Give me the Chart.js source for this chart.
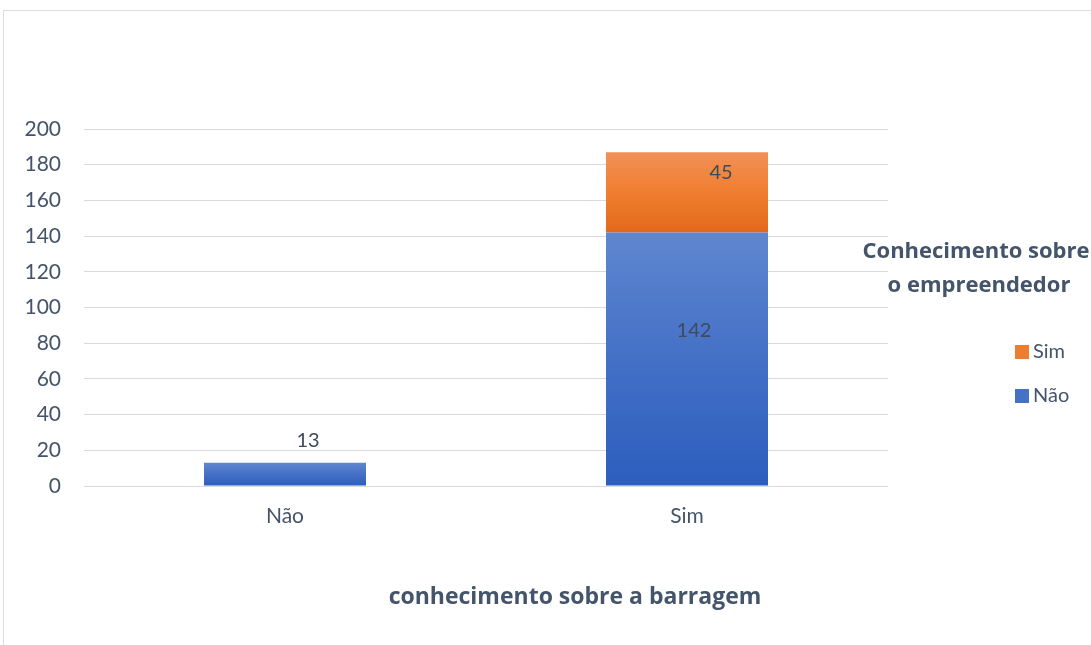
<!DOCTYPE html>
<html>
<head>
<meta charset="utf-8">
<script src="https://cdn.jsdelivr.net/npm/chart.js@4/dist/chart.umd.min.js"></script>
<style>
  html, body { margin: 0; padding: 0; background: #fff; }
  #wrap { position: relative; width: 1091px; height: 645px; overflow: hidden; }
  #frame { position: absolute; left: 3px; top: 10px; width: 1200px; height: 700px; border: 1px solid #dadee4; }
  canvas { position: absolute; left: 0; top: 0; }
</style>
</head>
<body>
<div id="wrap">
  <div id="frame"></div>
  <canvas id="chart" width="1091" height="645"></canvas>
</div>
<script>
// data
const categories = ["Não", "Sim"];
const serieNao = [13, 142];
const serieSim = [null, 45];
const seriesNames = ["Não", "Sim"];
const yMin = 0, yMax = 200, yStep = 20;
const xTitle = "conhecimento sobre a barragem";
const legendTitle = ["Conhecimento sobre", "o empreendedor"];

const FONT = "Lato, 'Open Sans', sans-serif";
const BOLD = "'Open Sans', Lato, sans-serif";
const TEXT = "#44546a";

// vertical gradient for one stacked segment
function segGradient(ctx, top, bottom) {
  const { chart, datasetIndex, dataIndex } = ctx;
  const area = chart.chartArea;
  if (!area) return top[1];
  const y = chart.scales.y;
  let start = 0;
  for (let d = 0; d < datasetIndex; d++) start += chart.data.datasets[d].data[dataIndex] || 0;
  const v = chart.data.datasets[datasetIndex].data[dataIndex] || 0;
  const y0 = y.getPixelForValue(start + v);
  const y1 = y.getPixelForValue(start);
  const g = chart.ctx.createLinearGradient(0, y0, 0, y1);
  g.addColorStop(0, top[0]);
  g.addColorStop(0.5, top[1]);
  g.addColorStop(1, bottom);
  return g;
}

const extras = {
  id: "extras",
  afterDraw(chart, args, opts) {
    const ctx = chart.ctx;
    ctx.save();
    // data labels
    ctx.font = "20px " + FONT;
    ctx.fillStyle = "#404a5a";
    ctx.textAlign = "center";
    ctx.textBaseline = "middle";
    chart.data.datasets.forEach((ds, di) => {
      const meta = chart.getDatasetMeta(di);
      meta.data.forEach((el, i) => {
        if (ds.data[i] == null) return;
        const off = opts.labelOffsets[di][i];
        ctx.fillText(String(ds.data[i]), el.x + off.dx, el.y + off.dy);
      });
    });
    // x axis title
    ctx.font = "bold 23px " + BOLD;
    ctx.fillStyle = TEXT;
    ctx.fillText(xTitle, 575, 597);
    // legend title
    ctx.font = "bold 22px " + BOLD;
    ctx.fillText(legendTitle[0], 976, 252);
    ctx.fillText(legendTitle[1], 979, 286);
    // legend items, reversed like the picture
    ctx.font = "20px " + FONT;
    ctx.textAlign = "left";
    const items = chart.data.datasets.map(ds => ({ label: ds.label, color: ds.legendColor })).reverse();
    items.forEach((it, k) => {
      const cy = 352 + k * 44;
      ctx.fillStyle = it.color;
      ctx.fillRect(1015, cy - 7, 14, 14);
      ctx.fillStyle = TEXT;
      ctx.fillText(it.label, 1033, cy);
    });
    ctx.restore();
  }
};

function draw() {
  new Chart(document.getElementById("chart"), {
    type: "bar",
    data: {
      labels: categories,
      datasets: [
        {
          label: seriesNames[0],
          data: serieNao,
          legendColor: "#4472c4",
          backgroundColor: c => segGradient(c, ["#5f87d0", "#4470c6"], "#2c5ebe"),
          barPercentage: 0.403,
          categoryPercentage: 1
        },
        {
          label: seriesNames[1],
          data: serieSim,
          legendColor: "#ed7d31",
          backgroundColor: c => segGradient(c, ["#f29058", "#f07e30"], "#e2691b"),
          barPercentage: 0.403,
          categoryPercentage: 1
        }
      ]
    },
    options: {
      responsive: false,
      animation: false,
      layout: { padding: { top: 129, right: 203, left: 0, bottom: 0 } },
      plugins: {
        legend: { display: false },
        tooltip: { enabled: false },
        extras: {
          labelOffsets: [
            [{ dx: 23, dy: -22 }, { dx: 7, dy: 98 }],
            [{ dx: 0, dy: 0 }, { dx: 34, dy: 20 }]
          ]
        }
      },
      scales: {
        x: {
          stacked: true,
          grid: { display: false, drawTicks: false },
          border: { display: false },
          ticks: { font: { family: FONT, size: 21 }, color: TEXT, padding: 18 },
          afterFit: s => { s.height = 159; }
        },
        y: {
          stacked: true,
          min: yMin,
          max: yMax,
          grid: { color: "#d9d9d9", lineWidth: 1, drawTicks: false },
          border: { display: false },
          ticks: { stepSize: yStep, font: { family: FONT, size: 21 }, color: TEXT, padding: 23 },
          afterFit: s => { s.width = 84; }
        }
      }
    },
    plugins: [extras]
  });
}

if (document.fonts && document.fonts.load) {
  Promise.all([
    document.fonts.load("20px Lato"),
    document.fonts.load("bold 22px 'Open Sans'")
  ]).then(draw, draw);
} else {
  draw();
}
</script>
</body>
</html>
